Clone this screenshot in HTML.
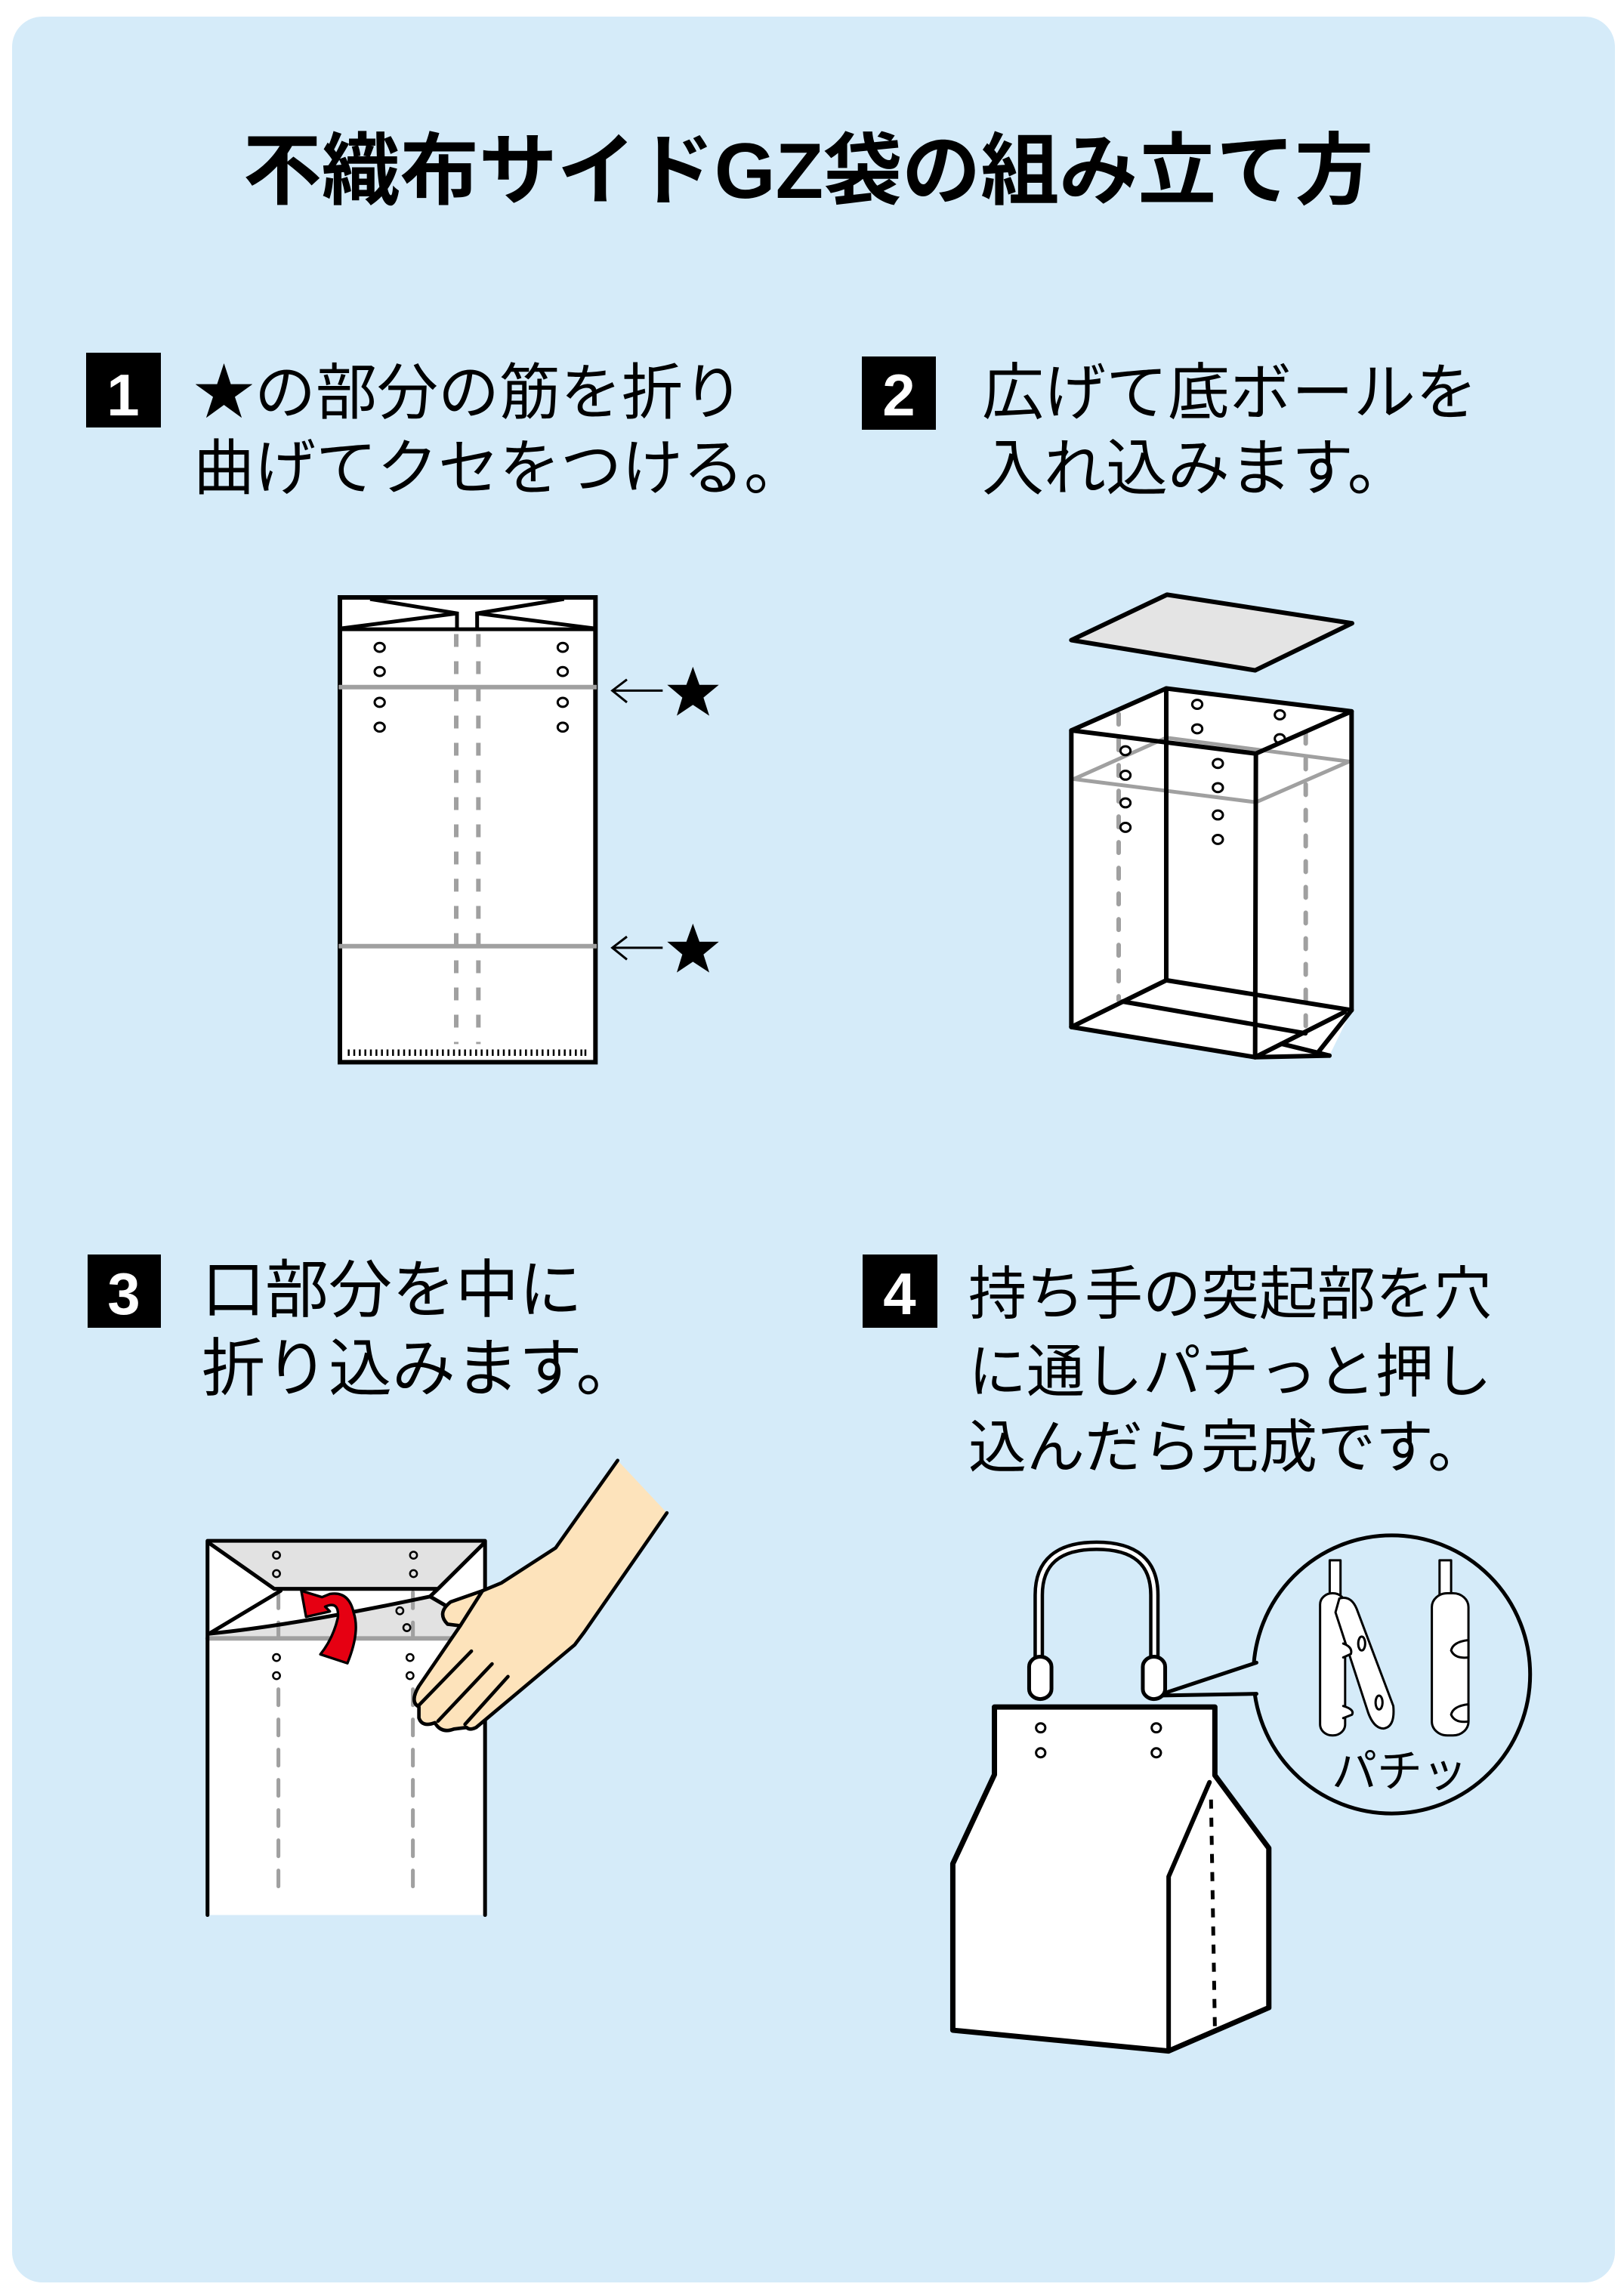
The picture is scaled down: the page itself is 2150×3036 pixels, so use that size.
<!DOCTYPE html>
<html><head><meta charset="utf-8"><style>
html,body{margin:0;padding:0;background:#fff;}
svg{display:block;}
text{font-family:"Liberation Sans","Noto Sans CJK JP",sans-serif;}
</style></head><body>
<svg width="2150" height="3036" viewBox="0 0 2150 3036" xmlns="http://www.w3.org/2000/svg">
<rect x="0" y="0" width="2150" height="3036" fill="#fff"/>
<rect x="16" y="22" width="2122" height="3000" rx="40" fill="#d5ebf9"/>

<text x="1070" y="262" font-size="104" font-weight="bold" text-anchor="middle" fill="#000">不織布サイドGZ袋の組み立て方</text>

<!-- badges -->
<rect x="114" y="467" width="99" height="99" fill="#000"/>
<text x="163" y="550" font-size="78" font-weight="bold" fill="#fff" text-anchor="middle">1</text>
<rect x="1141" y="472" width="98" height="97" fill="#000"/>
<text x="1190" y="550" font-size="78" font-weight="bold" fill="#fff" text-anchor="middle">2</text>
<rect x="116" y="1661" width="97" height="97" fill="#000"/>
<text x="164" y="1740" font-size="78" font-weight="bold" fill="#fff" text-anchor="middle">3</text>
<rect x="1142" y="1661" width="99" height="97" fill="#000"/>
<text x="1191" y="1740" font-size="78" font-weight="bold" fill="#fff" text-anchor="middle">4</text>

<g fill="#000">
<text x="256" y="548" font-size="81">★の部分の筋を折り</text>
<text x="256" y="648" font-size="81">曲げてクセをつける。</text>
<text x="1300" y="548" font-size="82">広げて底ボールを</text>
<text x="1300" y="648" font-size="82">入れ込みます。</text>
<text x="267" y="1737" font-size="84">口部分を中に</text>
<text x="267" y="1841" font-size="84">折り込みます。</text>
<text x="1282" y="1740" font-size="77">持ち手の突起部を穴</text>
<text x="1282" y="1843" font-size="77">に通しパチっと押し</text>
<text x="1282" y="1943" font-size="77">込んだら完成です。</text>
</g>

<!-- Drawing 1 -->
<g transform="translate(440,770) scale(0.33333,0.42088)" fill="none" stroke-linejoin="miter">
<rect x="30" y="50" width="1015" height="1462" fill="#fff" stroke="#000" stroke-width="6" vector-effect="non-scaling-stroke"/>
<g stroke="#000" stroke-width="5" vector-effect="non-scaling-stroke">
<line x1="30" y1="150" x2="1045" y2="150" vector-effect="non-scaling-stroke"/>
<polyline points="150,55 495,100 495,150" vector-effect="non-scaling-stroke"/>
<line x1="30" y1="148" x2="495" y2="100" vector-effect="non-scaling-stroke"/>
<polyline points="920,55 575,100 575,150" vector-effect="non-scaling-stroke"/>
<line x1="1045" y1="148" x2="575" y2="100" vector-effect="non-scaling-stroke"/>
</g>
<g stroke="#a0a0a0" stroke-width="6" stroke-dasharray="17 19" vector-effect="non-scaling-stroke">
<line x1="492" y1="165" x2="492" y2="1455" vector-effect="non-scaling-stroke"/>
<line x1="580" y1="165" x2="580" y2="1455" vector-effect="non-scaling-stroke"/>
</g>
<g stroke="#a0a0a0" stroke-width="6">
<line x1="25" y1="332" x2="1050" y2="332" vector-effect="non-scaling-stroke"/>
<line x1="25" y1="1147" x2="1050" y2="1147" vector-effect="non-scaling-stroke"/>
</g>
<g stroke="#000" stroke-width="3">
<ellipse cx="188" cy="207" rx="20" ry="14" vector-effect="non-scaling-stroke"/>
<ellipse cx="188" cy="283" rx="20" ry="14" vector-effect="non-scaling-stroke"/>
<ellipse cx="188" cy="380" rx="20" ry="14" vector-effect="non-scaling-stroke"/>
<ellipse cx="188" cy="458" rx="20" ry="14" vector-effect="non-scaling-stroke"/>
<ellipse cx="915" cy="207" rx="20" ry="14" vector-effect="non-scaling-stroke"/>
<ellipse cx="915" cy="283" rx="20" ry="14" vector-effect="non-scaling-stroke"/>
<ellipse cx="915" cy="380" rx="20" ry="14" vector-effect="non-scaling-stroke"/>
<ellipse cx="915" cy="458" rx="20" ry="14" vector-effect="non-scaling-stroke"/>
</g>
<path d="M65,1472 V1492 M87,1472 V1492 M109,1472 V1492 M131,1472 V1492 M153,1472 V1492 M175,1472 V1492 M197,1472 V1492 M219,1472 V1492 M241,1472 V1492 M263,1472 V1492 M285,1472 V1492 M307,1472 V1492 M329,1472 V1492 M351,1472 V1492 M373,1472 V1492 M395,1472 V1492 M417,1472 V1492 M439,1472 V1492 M461,1472 V1492 M483,1472 V1492 M505,1472 V1492 M527,1472 V1492 M549,1472 V1492 M571,1472 V1492 M593,1472 V1492 M615,1472 V1492 M637,1472 V1492 M659,1472 V1492 M681,1472 V1492 M703,1472 V1492 M725,1472 V1492 M747,1472 V1492 M769,1472 V1492 M791,1472 V1492 M813,1472 V1492 M835,1472 V1492 M857,1472 V1492 M879,1472 V1492 M901,1472 V1492 M923,1472 V1492 M945,1472 V1492 M967,1472 V1492 M989,1472 V1492 M1005,1472 V1492" stroke="#000" stroke-width="2.5" vector-effect="non-scaling-stroke"/>
<g stroke="#000" stroke-width="3">
<path d="M1312,343 H1110 M1170,308 L1112,343 L1170,380" vector-effect="non-scaling-stroke"/>
<path d="M1312,1152 H1110 M1170,1117 L1112,1152 L1170,1189" vector-effect="non-scaling-stroke"/>
</g>
<polygon points="1432,268 1458,325 1535,325 1474,365 1497,422 1432,388 1368,422 1390,365 1330,325 1406,325" fill="#000"/>
<polygon points="1432,1076 1458,1133 1535,1133 1474,1173 1497,1230 1432,1196 1368,1230 1390,1173 1330,1133 1406,1133" fill="#000"/>
</g>

<!-- Drawing 2 -->
<g transform="translate(1380,760) scale(0.33333,0.42088)" fill="none" stroke-linejoin="round" stroke-linecap="round">
<polygon points="115,208 495,65 1230,155 845,303" fill="#e4e4e4" stroke="#000" stroke-width="6" vector-effect="non-scaling-stroke"/>
<polygon points="115,492 492,360 1228,432 1228,1372 1140,1515 845,1520 115,1425" fill="#fff"/>
<g stroke="#a0a0a0" stroke-width="6" stroke-dasharray="14 20" vector-effect="non-scaling-stroke">
<line x1="303" y1="440" x2="303" y2="1340" vector-effect="non-scaling-stroke"/>
<line x1="1046" y1="500" x2="1046" y2="1440" vector-effect="non-scaling-stroke"/>
</g>
<polygon points="125,645 492,515 1218,590 848,718" stroke="#a0a0a0" stroke-width="5" vector-effect="non-scaling-stroke"/>
<g stroke="#000" stroke-width="3">
<ellipse cx="615" cy="410" rx="20" ry="14" vector-effect="non-scaling-stroke"/>
<ellipse cx="615" cy="487" rx="20" ry="14" vector-effect="non-scaling-stroke"/>
<ellipse cx="943" cy="443" rx="20" ry="14" vector-effect="non-scaling-stroke"/>
<ellipse cx="943" cy="518" rx="20" ry="14" vector-effect="non-scaling-stroke"/>
<ellipse cx="330" cy="556" rx="20" ry="14" vector-effect="non-scaling-stroke"/>
<ellipse cx="330" cy="633" rx="20" ry="14" vector-effect="non-scaling-stroke"/>
<ellipse cx="330" cy="720" rx="20" ry="14" vector-effect="non-scaling-stroke"/>
<ellipse cx="330" cy="797" rx="20" ry="14" vector-effect="non-scaling-stroke"/>
<ellipse cx="697" cy="596" rx="20" ry="14" vector-effect="non-scaling-stroke"/>
<ellipse cx="697" cy="672" rx="20" ry="14" vector-effect="non-scaling-stroke"/>
<ellipse cx="697" cy="758" rx="20" ry="14" vector-effect="non-scaling-stroke"/>
<ellipse cx="697" cy="835" rx="20" ry="14" vector-effect="non-scaling-stroke"/>
</g>
<g stroke="#000" stroke-width="6">
<polygon points="115,492 492,360 1228,432 848,565" vector-effect="non-scaling-stroke"/>
<line x1="492" y1="360" x2="492" y2="1278" vector-effect="non-scaling-stroke"/>
<line x1="115" y1="492" x2="115" y2="1425" vector-effect="non-scaling-stroke"/>
<line x1="848" y1="565" x2="845" y2="1520" vector-effect="non-scaling-stroke"/>
<line x1="1228" y1="432" x2="1228" y2="1372" vector-effect="non-scaling-stroke"/>
<line x1="115" y1="1425" x2="845" y2="1520" vector-effect="non-scaling-stroke"/>
<line x1="115" y1="1425" x2="492" y2="1278" vector-effect="non-scaling-stroke"/>
<line x1="492" y1="1278" x2="1228" y2="1372" vector-effect="non-scaling-stroke"/>
<line x1="318" y1="1345" x2="1045" y2="1445" vector-effect="non-scaling-stroke"/>
<line x1="845" y1="1520" x2="1200" y2="1378" vector-effect="non-scaling-stroke"/>
<line x1="1228" y1="1372" x2="1095" y2="1505" vector-effect="non-scaling-stroke"/>
<line x1="950" y1="1478" x2="1140" y2="1515" vector-effect="non-scaling-stroke"/>
<line x1="845" y1="1520" x2="1140" y2="1515" vector-effect="non-scaling-stroke"/>
</g>
</g>

<!-- Drawing 3 -->
<g transform="translate(260,1900) scale(0.42088)" stroke-linejoin="round" stroke-linecap="round">
<rect x="35" y="333" width="873" height="1177" fill="#fff"/>
<polygon points="40,340 905,340 760,484 245,484" fill="#e2e2e2"/>
<path d="M40,625 Q300,600 735,508 L790,540 L905,560 L905,640 L40,640 Z" fill="#e2e2e2"/>
<polygon points="40,340 245,484 40,625" fill="#fff"/>
<g stroke="#a0a0a0" stroke-width="12" fill="none" stroke-dasharray="50 45">
<line x1="258" y1="800" x2="258" y2="1430"/>
<line x1="681" y1="800" x2="681" y2="1430"/>
<line x1="258" y1="495" x2="258" y2="680"/>
<line x1="681" y1="495" x2="681" y2="680"/>
</g>
<line x1="35" y1="640" x2="800" y2="640" stroke="#a0a0a0" stroke-width="14"/>
<g fill="none" stroke="#000" stroke-width="12">
<path d="M35,1510 V333 H908 V1510"/>
<path d="M40,340 L245,484 M265,490 L40,625 Q300,600 735,508 L790,540 M905,340 L760,484 L735,508 M245,484 H760 M265,490 L265,484"/>
</g>
<g fill="none" stroke="#000" stroke-width="6">
<circle cx="252" cy="378" r="11"/><circle cx="252" cy="436" r="11"/>
<circle cx="683" cy="378" r="11"/><circle cx="683" cy="436" r="11"/>
<circle cx="640" cy="553" r="11"/><circle cx="662" cy="606" r="11"/>
<circle cx="252" cy="700" r="11"/><circle cx="252" cy="757" r="11"/>
<circle cx="672" cy="700" r="11"/><circle cx="672" cy="757" r="11"/>
</g>
<path d="M330,490 L345,572 L420,555 L405,540 Q450,520 445,575 Q430,640 390,690 L475,718 Q515,620 495,560 Q480,490 420,500 L395,510 Z" fill="#e60012" stroke="#000" stroke-width="8"/>
<path d="M1325,80 L1130,355 L960,465 L900,490 L800,525 Q755,560 790,595 L830,600 L700,790 Q670,840 700,855 L700,890 Q710,920 750,905 Q770,940 810,925 L850,920 Q860,930 880,920 L1190,660 L1220,620 L1480,245 Z" fill="#fde3bb"/>
<path d="M1325,80 L1130,355 L960,465 L900,490 L800,525 Q755,560 790,595 L830,600 L700,790 Q670,840 700,855 L700,890 Q710,920 750,905 Q770,940 810,925 L850,920 Q860,930 880,920 L1190,660 L1220,620 L1480,245" fill="none" stroke="#000" stroke-width="11"/>
<path d="M900,490 L830,600 M865,680 L700,850 M930,720 L760,900 M980,760 L845,910" fill="none" stroke="#000" stroke-width="11"/>
</g>

<!-- Drawing 4 -->
<g transform="translate(1240,2020) scale(0.5102,0.45914)" stroke-linejoin="round" stroke-linecap="round">
<ellipse cx="1181" cy="429" rx="359" ry="401" fill="#d5ebf9" stroke="#000" stroke-width="5" vector-effect="non-scaling-stroke"/>
<polygon points="572,490 840,392 840,488" fill="#d5ebf9"/>
<path d="M572,490 L830,395 M572,490 L830,485" fill="none" stroke="#000" stroke-width="5" vector-effect="non-scaling-stroke"/>
<path d="M150,523 H722 V720 L862,930 V1390 L602,1515 L42,1455 V975 L150,718 Z" fill="#fff" stroke="#000" stroke-width="7" vector-effect="non-scaling-stroke"/>
<path d="M602,1515 V1012 L708,740" fill="none" stroke="#000" stroke-width="6" vector-effect="non-scaling-stroke"/>
<line x1="712" y1="790" x2="722" y2="1445" stroke="#000" stroke-width="5" stroke-dasharray="12 12" vector-effect="non-scaling-stroke" stroke-linecap="butt"/>
<g fill="none" stroke="#000" stroke-width="3">
<ellipse cx="270" cy="583" rx="12" ry="13" vector-effect="non-scaling-stroke"/>
<ellipse cx="270" cy="655" rx="12" ry="13" vector-effect="non-scaling-stroke"/>
<ellipse cx="570" cy="583" rx="12" ry="13" vector-effect="non-scaling-stroke"/>
<ellipse cx="570" cy="655" rx="12" ry="13" vector-effect="non-scaling-stroke"/>
</g>
<path d="M265,385 L265,200 Q265,58 415,58 Q565,58 565,200 L565,385" fill="none" stroke="#000" stroke-width="14" vector-effect="non-scaling-stroke"/>
<path d="M265,385 L265,200 Q265,58 415,58 Q565,58 565,200 L565,385" fill="none" stroke="#fff" stroke-width="5" vector-effect="non-scaling-stroke"/>
<rect x="240" y="378" width="58" height="122" rx="29" ry="29" fill="#fff" stroke="#000" stroke-width="5" vector-effect="non-scaling-stroke"/>
<rect x="535" y="378" width="58" height="122" rx="29" ry="29" fill="#fff" stroke="#000" stroke-width="5" vector-effect="non-scaling-stroke"/>
<g fill="#fff" stroke="#000" stroke-width="3">
<rect x="1020" y="100" width="28" height="110" vector-effect="non-scaling-stroke"/>
<rect x="995" y="195" width="65" height="410" rx="32" ry="32" vector-effect="non-scaling-stroke"/>
<path d="M1045,210 Q1075,200 1090,240 L1185,520 Q1190,580 1160,585 Q1135,585 1120,540 L1035,250 Z" vector-effect="non-scaling-stroke"/>
<ellipse cx="1103" cy="340" rx="9" ry="20" vector-effect="non-scaling-stroke"/>
<ellipse cx="1148" cy="510" rx="9" ry="20" vector-effect="non-scaling-stroke"/>
<path d="M1055,340 Q1080,350 1075,370 L1055,380 M1055,520 Q1085,530 1078,545 L1055,555" vector-effect="non-scaling-stroke"/>
<rect x="1305" y="100" width="30" height="110" vector-effect="non-scaling-stroke"/>
<rect x="1285" y="195" width="95" height="410" rx="40" ry="40" vector-effect="non-scaling-stroke"/>
<path d="M1380,330 Q1340,335 1335,360 Q1345,385 1380,380 Z M1380,515 Q1340,520 1335,545 Q1345,570 1380,565 Z" vector-effect="non-scaling-stroke"/>
</g>
</g>
<text x="1763" y="2366" font-size="60" fill="#000">パチッ</text>
</svg>
</body></html>
